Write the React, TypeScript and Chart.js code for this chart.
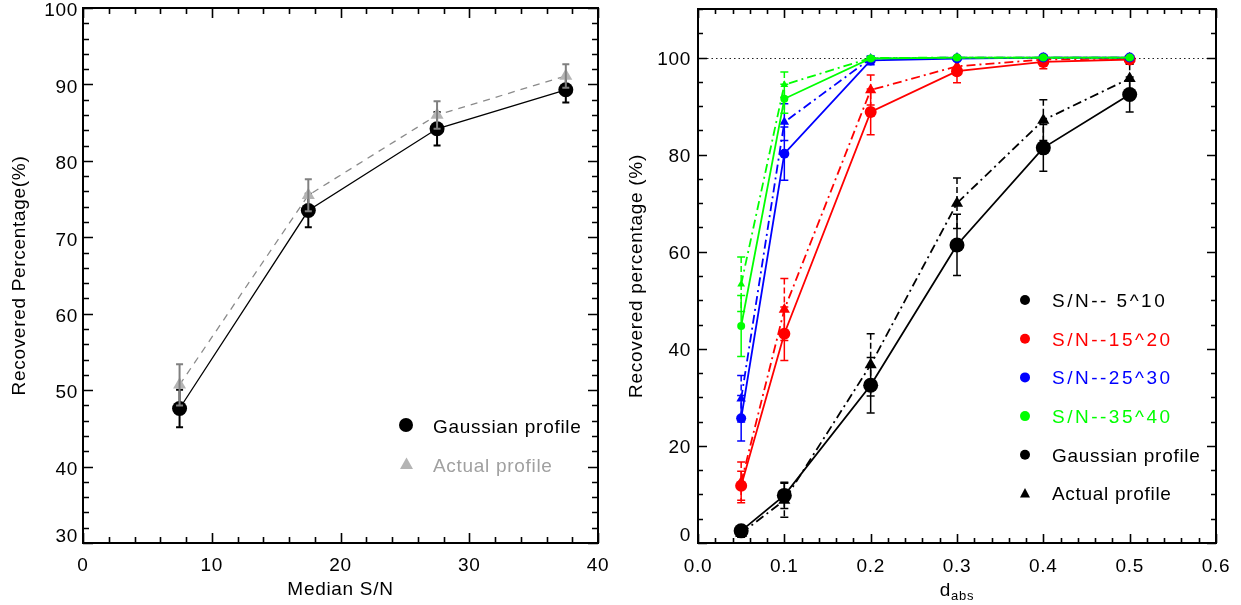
import { useEffect, useRef } from 'react';
import { Chart, registerables } from 'chart.js';

Chart.register(...registerables);

const FONT = '"Liberation Sans", Arial, Helvetica, sans-serif';
const FS = 19;
const LS = '0.7px';

// ---------------- Left panel data ----------------
const medianSN = [7.5, 17.5, 27.5, 37.5];
const leftGauss = [47.6, 73.5, 84.2, 89.3];
const leftGaussErr = [2.45, 2.2, 2.2, 1.65];
const leftActual = [50.7, 75.5, 86.0, 91.1];
const leftActualErr = [2.7, 2.1, 1.8, 1.55];
const leftXTicks = [0, 10, 20, 30, 40];
const leftYTicks = [30, 40, 50, 60, 70, 80, 90, 100];

// ---------------- Right panel data ----------------
const dabs = [0.05, 0.1, 0.2, 0.3, 0.4, 0.5];
const sn5Gauss = [2.5, 9.8, 32.5, 61.4, 81.4, 92.4];
const sn5GaussErr = [0.8, 2.7, 5.7, 6.3, 4.8, 3.6];
const sn5Actual = [2.0, 8.8, 36.7, 70.0, 87.1, 95.7];
const sn5ActualErr = [0.8, 3.5, 6.4, 5.2, 4.2, 2.9];
const sn15Gauss = [11.8, 43.1, 88.8, 97.2, 99.1, 99.6];
const sn15GaussErr = [3.0, 5.5, 4.7, 2.4, 1.4, 0.6];
const sn15Actual = [12.5, 48.1, 93.3, 98.2, 99.6, 99.8];
const sn15ActualErr = [4.2, 6.4, 3.1, 1.3, 0.7, 0.3];
const sn25Gauss = [25.7, 80.2, 99.4, 99.8, 100, 100];
const sn25GaussErr = [4.7, 5.5, 0.9, 0.3, 0.1, 0.1];
const sn25Actual = [29.7, 86.7, 99.8, 100, 100, 100];
const sn25ActualErr = [4.8, 3.8, 0.4, 0.1, 0.1, 0.1];
const sn35Gauss = [44.7, 91.5, 99.8, 100, 100, 100];
const sn35GaussErr = [6.3, 3.0, 0.3, 0.1, 0.1, 0.1];
const sn35Actual = [53.3, 94.4, 99.9, 100, 100, 100];
const sn35ActualErr = [5.6, 2.6, 0.2, 0.1, 0.1, 0.1];
const rightXTicks = [0, 0.1, 0.2, 0.3, 0.4, 0.5, 0.6];
const rightXTickLabels = ['0.0', '0.1', '0.2', '0.3', '0.4', '0.5', '0.6'];
const rightYTicks = [0, 20, 40, 60, 80, 100];
const rightLegendLabels = ['S/N-- 5^10', 'S/N--15^20', 'S/N--25^30', 'S/N--35^40', 'Gaussian profile', 'Actual profile'];
const rightLegendColors = ['#000000', '#ff0000', '#0000ff', '#00ff00', '#000000', '#000000'];

const DASHDOT = [9, 4, 2, 4];

function pts(xs: number[], ys: number[]) {
  return xs.map((x, i) => ({ x, y: ys[i] }));
}

const spacingPlugin = {
  id: 'spacing',
  beforeLayout(chart: any) {
    chart.ctx.letterSpacing = LS;
  },
  beforeDraw(chart: any) {
    chart.ctx.letterSpacing = LS;
  },
};

const errorBarPlugin = {
  id: 'errbars',
  afterDatasetDraw(chart: any, args: any) {
    const ds = chart.data.datasets[args.index];
    if (!ds.errors) return;
    const ctx = chart.ctx;
    const ys = chart.scales.y;
    const cap = ds.errCap || 4;
    ctx.save();
    ctx.strokeStyle = ds.errColor;
    ctx.lineWidth = ds.errWidth;
    args.meta.data.forEach((el: any, j: number) => {
      const v = ds.data[j].y;
      const e = ds.errors[j];
      const x = el.x;
      const yt = ys.getPixelForValue(v + e);
      const yb = ys.getPixelForValue(v - e);
      ctx.setLineDash(ds.errDash || []);
      ctx.beginPath();
      ctx.moveTo(x, yt);
      ctx.lineTo(x, yb);
      ctx.stroke();
      ctx.setLineDash([]);
      ctx.beginPath();
      ctx.moveTo(x - cap, yt);
      ctx.lineTo(x + cap, yt);
      ctx.moveTo(x - cap, yb);
      ctx.lineTo(x + cap, yb);
      ctx.stroke();
    });
    ctx.restore();
  },
};

function drawFrameTicks(chart: any, xMinor: number, xEvery: number, yMinor: number, yEvery: number, majorLen: number, minorLen: number) {
  const ctx = chart.ctx;
  const a = chart.chartArea;
  const xs = chart.scales.x;
  const ys = chart.scales.y;
  ctx.save();
  ctx.strokeStyle = '#000';
  ctx.lineWidth = 1.6;
  ctx.beginPath();
  for (let k = 0; ; k++) {
    const v = xs.min + k * xMinor;
    if (v > xs.max + 1e-9) break;
    const p = Math.round(xs.getPixelForValue(v)) + 0.5;
    const len = k % xEvery === 0 ? majorLen : minorLen;
    ctx.moveTo(p, a.bottom);
    ctx.lineTo(p, a.bottom - len);
    ctx.moveTo(p, a.top);
    ctx.lineTo(p, a.top + len);
  }
  for (let k = 0; ; k++) {
    const v = ys.min + k * yMinor;
    if (v > ys.max + 1e-9) break;
    const p = Math.round(ys.getPixelForValue(v)) + 0.5;
    const len = k % yEvery === 0 ? majorLen : minorLen;
    ctx.moveTo(a.left, p);
    ctx.lineTo(a.left + len, p);
    ctx.moveTo(a.right, p);
    ctx.lineTo(a.right - len, p);
  }
  ctx.stroke();
  ctx.lineWidth = 2;
  ctx.strokeRect(a.left, a.top, a.right - a.left, a.bottom - a.top);
  ctx.restore();
}

function drawYTitle(chart: any, text: string, baseX: number) {
  const ctx = chart.ctx;
  const a = chart.chartArea;
  ctx.save();
  ctx.letterSpacing = LS;
  ctx.font = `${FS}px ${FONT}`;
  ctx.fillStyle = '#000';
  ctx.textAlign = 'center';
  ctx.textBaseline = 'alphabetic';
  ctx.translate(baseX, (a.top + a.bottom) / 2);
  ctx.rotate(-Math.PI / 2);
  ctx.fillText(text, 0, 0);
  ctx.restore();
}

// The lowest y label is lifted above its tick (as in the original), by
// rendering it as a two-line label with a reduced line height.
function axisBase(min: number, max: number, values: number[], labels: (v: number) => string, horizontal: boolean, size: number, padding: number, labelOffset: number) {
  return {
    type: 'linear',
    min,
    max,
    afterBuildTicks: (s: any) => {
      s.ticks = values.map((v) => ({ value: v }));
    },
    ticks: {
      font: (c: any) => {
        const lifted = !horizontal && c && c.tick && c.tick.value === min;
        return { family: FONT, size: FS, lineHeight: lifted ? 0.95 : 1.2 };
      },
      color: '#000',
      padding,
      labelOffset,
      maxRotation: 0,
      minRotation: 0,
      autoSkip: false,
      callback: (v: any) => {
        const n = Number(v);
        const s = labels(n);
        return !horizontal && n === min ? [s, ''] : s;
      },
    },
    grid: { display: false, drawTicks: false },
    border: { display: false },
    afterFit: (s: any) => {
      if (horizontal) {
        s.height = size;
        s.paddingLeft = 0;
        s.paddingRight = 0;
      } else {
        s.width = size;
        s.paddingTop = 0;
        s.paddingBottom = 0;
      }
    },
  };
}

const leftDecor = {
  id: 'leftDecor',
  afterDatasetsDraw(chart: any) {
    drawFrameTicks(chart, 2, 5, 2, 5, 10, 6);
    const ctx = chart.ctx;
    const a = chart.chartArea;
    ctx.save();
    ctx.letterSpacing = LS;
    ctx.font = `${FS}px ${FONT}`;
    ctx.textBaseline = 'alphabetic';
    ctx.textAlign = 'center';
    ctx.fillStyle = '#000';
    ctx.fillText('Median S/N', (a.left + a.right) / 2, 595);
    // legend
    ctx.textAlign = 'left';
    ctx.beginPath();
    ctx.arc(406, 425, 7, 0, Math.PI * 2);
    ctx.fill();
    ctx.fillText('Gaussian profile', 433, 432.5);
    ctx.fillStyle = '#b4b4b4';
    ctx.beginPath();
    ctx.moveTo(406.5, 457.5);
    ctx.lineTo(413, 469);
    ctx.lineTo(400, 469);
    ctx.closePath();
    ctx.fill();
    ctx.fillStyle = '#a0a0a0';
    ctx.fillText('Actual profile', 433, 472);
    ctx.restore();
    drawYTitle(chart, 'Recovered Percentage(%)', 25);
  },
};

const rightDecor = {
  id: 'rightDecor',
  beforeDatasetsDraw(chart: any) {
    const ctx = chart.ctx;
    const a = chart.chartArea;
    const y = Math.round(chart.scales.y.getPixelForValue(100)) + 0.5;
    ctx.save();
    ctx.strokeStyle = '#222';
    ctx.lineWidth = 1.2;
    ctx.setLineDash([1.5, 3]);
    ctx.beginPath();
    ctx.moveTo(a.left, y);
    ctx.lineTo(a.right, y);
    ctx.stroke();
    ctx.restore();
  },
  afterDatasetsDraw(chart: any) {
    drawFrameTicks(chart, 0.02, 5, 5, 4, 9, 5);
    const ctx = chart.ctx;
    const a = chart.chartArea;
    ctx.save();
    ctx.letterSpacing = LS;
    ctx.fillStyle = '#000';
    ctx.textBaseline = 'alphabetic';
    ctx.textAlign = 'left';
    // x title d_abs
    ctx.font = `${FS}px ${FONT}`;
    const wd = ctx.measureText('d').width;
    ctx.font = `13px ${FONT}`;
    const wa = ctx.measureText('abs').width;
    const x0 = (a.left + a.right) / 2 - (wd + wa) / 2;
    ctx.font = `${FS}px ${FONT}`;
    ctx.fillText('d', x0, 596);
    ctx.font = `13px ${FONT}`;
    ctx.fillText('abs', x0 + wd, 600);
    // legend
    ctx.font = `${FS}px ${FONT}`;
    rightLegendLabels.forEach((lab, i) => {
      const cy = 300 + i * 38.7;
      ctx.fillStyle = rightLegendColors[i];
      ctx.beginPath();
      if (i === 5) {
        ctx.moveTo(405, cy - 5.5);
        ctx.lineTo(410, cy + 4);
        ctx.lineTo(400, cy + 4);
        ctx.closePath();
      } else {
        ctx.arc(405, cy, 5, 0, Math.PI * 2);
      }
      ctx.fill();
      ctx.letterSpacing = i < 4 ? '2.5px' : LS;
      ctx.fillText(lab, 432, cy + 6.8);
    });
    ctx.restore();
    drawYTitle(chart, 'Recovered percentage (%)', 22);
  },
};

function series(label: string, ys: number[], errs: number[], color: string, actual: boolean, radius: number, order: number) {
  return {
    label,
    data: pts(dabs, ys),
    errors: errs,
    errColor: color,
    errWidth: 1.5,
    errCap: 4,
    errDash: actual ? [6, 3] : [],
    showLine: true,
    borderColor: color,
    backgroundColor: color,
    borderWidth: 1.8,
    borderDash: actual ? DASHDOT : [],
    pointStyle: actual ? 'triangle' : 'circle',
    pointRadius: radius,
    pointBackgroundColor: color,
    pointBorderColor: color,
    pointBorderWidth: 0,
    order,
  };
}

const common = {
  responsive: false,
  animation: false,
  events: [],
  plugins: { legend: { display: false }, tooltip: { enabled: false } },
};

export default function App() {
  const leftRef = useRef<HTMLCanvasElement>(null);
  const rightRef = useRef<HTMLCanvasElement>(null);

  useEffect(() => {
    document.body.style.background = '#ffffff';
    const left = new Chart(leftRef.current as HTMLCanvasElement, {
      type: 'scatter',
      data: {
        datasets: [
          {
            label: 'Gaussian profile',
            data: pts(medianSN, leftGauss),
            errors: leftGaussErr,
            errColor: '#000000',
            errWidth: 2,
            errCap: 3.5,
            showLine: true,
            borderColor: '#000000',
            backgroundColor: '#000000',
            borderWidth: 1.3,
            pointStyle: 'circle',
            pointRadius: 7.5,
            pointBackgroundColor: '#000000',
            pointBorderColor: '#000000',
            pointBorderWidth: 0,
            order: 2,
          },
          {
            label: 'Actual profile',
            data: pts(medianSN, leftActual),
            errors: leftActualErr,
            errColor: '#808080',
            errWidth: 2,
            errCap: 3.5,
            showLine: true,
            borderColor: '#8a8a8a',
            backgroundColor: '#b4b4b4',
            borderWidth: 1.3,
            borderDash: [7, 6],
            pointStyle: 'triangle',
            pointRadius: 7.5,
            pointBackgroundColor: '#b4b4b4',
            pointBorderColor: '#b4b4b4',
            pointBorderWidth: 0,
            order: 1,
          },
        ] as any,
      },
      options: {
        ...common,
        layout: { padding: { left: 0, right: 22, top: 8, bottom: 0 } },
        scales: {
          x: axisBase(0, 40, leftXTicks, (v) => String(v), true, 62, 11, 0),
          y: axisBase(30, 100, leftYTicks, (v) => String(v), false, 83, 5, 3),
        },
      } as any,
      plugins: [spacingPlugin, errorBarPlugin, leftDecor],
    });

    const right = new Chart(rightRef.current as HTMLCanvasElement, {
      type: 'scatter',
      data: {
        datasets: [
          series('S/N 5-10 Gaussian', sn5Gauss, sn5GaussErr, '#000000', false, 7.5, 8),
          series('S/N 5-10 Actual', sn5Actual, sn5ActualErr, '#000000', true, 7, 7),
          series('S/N 15-20 Gaussian', sn15Gauss, sn15GaussErr, '#ff0000', false, 6, 6),
          series('S/N 15-20 Actual', sn15Actual, sn15ActualErr, '#ff0000', true, 6.5, 5),
          series('S/N 25-30 Gaussian', sn25Gauss, sn25GaussErr, '#0000ff', false, 5, 4),
          series('S/N 25-30 Actual', sn25Actual, sn25ActualErr, '#0000ff', true, 5.5, 3),
          series('S/N 35-40 Gaussian', sn35Gauss, sn35GaussErr, '#00ff00', false, 4, 2),
          series('S/N 35-40 Actual', sn35Actual, sn35ActualErr, '#00ff00', true, 4.5, 1),
        ] as any,
      },
      options: {
        ...common,
        layout: { padding: { left: 0, right: 25, top: 9, bottom: 0 } },
        scales: {
          x: axisBase(0, 0.6, rightXTicks, (v) => rightXTickLabels[rightXTicks.findIndex((t) => Math.abs(t - v) < 1e-6)] ?? '', true, 62, 12, 0),
          y: axisBase(0, 110, rightYTicks, (v) => String(v), false, 78, 7, 2),
        },
      } as any,
      plugins: [spacingPlugin, errorBarPlugin, rightDecor],
    });

    return () => {
      left.destroy();
      right.destroy();
    };
  }, []);

  return (
    <div style={{ position: 'absolute', left: 0, top: 0, width: 1241, height: 605, background: '#fff' }}>
      <canvas ref={leftRef} width={620} height={605} style={{ position: 'absolute', left: 0, top: 0 }} />
      <canvas ref={rightRef} width={621} height={605} style={{ position: 'absolute', left: 620, top: 0 }} />
    </div>
  );
}
